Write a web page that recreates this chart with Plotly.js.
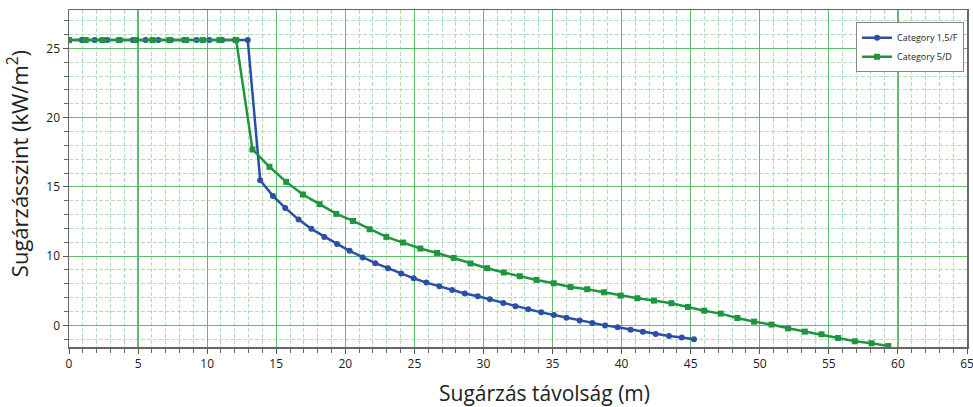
<!DOCTYPE html>
<html>
<head>
<meta charset="utf-8">
<script src="https://cdn.plot.ly/plotly-3.0.1.min.js"></script>
<style>html,body{margin:0;padding:0;background:#fff;}#chart{width:973px;height:407px;}</style>
</head>
<body>
<div id="chart"></div>
<script>
// Category 1,5/F (blue, circles)
const blueX = [0, 0.92, 1.85, 2.77, 3.70, 4.62, 5.54, 6.47, 7.39, 8.32, 9.24, 10.16, 11.09, 12.01, 12.94,
  13.84, 14.76, 15.65, 16.62, 17.54, 18.48, 19.40, 20.31, 21.26, 22.17, 23.09, 24.04, 24.95, 25.87, 26.81,
  27.73, 28.65, 29.59, 30.46, 31.43, 32.32, 33.24, 34.18, 35.10, 36.01, 36.96, 37.88, 38.80, 39.71, 40.65,
  41.54, 42.46, 43.43, 44.35, 45.24];
const blueY = [25.6, 25.6, 25.6, 25.6, 25.6, 25.6, 25.6, 25.6, 25.6, 25.6, 25.6, 25.6, 25.6, 25.6, 25.6,
  15.48, 14.35, 13.48, 12.64, 11.97, 11.39, 10.88, 10.38, 9.90, 9.49, 9.13, 8.74, 8.40, 8.09, 7.83,
  7.56, 7.30, 7.10, 6.88, 6.62, 6.38, 6.16, 5.94, 5.75, 5.56, 5.36, 5.17, 5.00, 4.86, 4.69,
  4.55, 4.38, 4.23, 4.12, 4.00];
// Category 5/D (green, squares)
const greenX = [0, 1.21, 2.42, 3.63, 4.84, 6.05, 7.26, 8.47, 9.68, 10.89, 12.10,
  13.28, 14.51, 15.72, 16.93, 18.14, 19.35, 20.56, 21.76, 22.97, 24.18, 25.43, 26.64, 27.85, 29.06, 30.27,
  31.47, 32.63, 33.84, 35.09, 36.30, 37.51, 38.72, 39.93, 41.14, 42.34, 43.60, 44.80, 45.98, 47.17,
  48.38, 49.59, 50.85, 52.05, 53.26, 54.47, 55.67, 56.88, 58.09, 59.30];
const greenY = [25.6, 25.6, 25.6, 25.6, 25.6, 25.6, 25.6, 25.6, 25.6, 25.6, 25.6,
  17.70, 16.45, 15.36, 14.45, 13.75, 13.05, 12.54, 11.94, 11.39, 10.98, 10.55, 10.23, 9.87, 9.47, 9.13,
  8.82, 8.55, 8.28, 8.04, 7.77, 7.61, 7.39, 7.15, 6.96, 6.79, 6.60, 6.33, 6.06, 5.85,
  5.53, 5.27, 5.06, 4.79, 4.55, 4.36, 4.09, 3.85, 3.71, 3.51];
const seriesNames = ["Category 1,5/F", "Category 5/D"];
const yTickVals = [5, 10, 15, 20, 25];
const yTickText = ["0", "10", "15", "20", "25"];
const xTitle = "Sugárzás távolság (m)";
const yTitle = "Sugárzásszint (kW/m<sup>2</sup>)";

const FONT = "Open Sans, DejaVu Sans, sans-serif";
const MAJOR = "rgb(95,188,108)";
const MINOR = "rgb(178,222,182)";

const traces = [
  {x: blueX, y: blueY, name: seriesNames[0], type: "scatter", mode: "lines+markers",
   line: {color: "#2a4fa6", width: 2.5}, marker: {symbol: "circle", size: 6, color: "#2a4fa6"}},
  {x: greenX, y: greenY, name: seriesNames[1], type: "scatter", mode: "lines+markers",
   line: {color: "#1f9540", width: 2.5}, marker: {symbol: "square", size: 6, color: "#1f9540"}}
];

const axisCommon = {
  showline: true, linecolor: "#666", linewidth: 1.5, mirror: true,
  ticks: "outside", ticklen: 5, tickcolor: "#555", tickwidth: 1,
  showgrid: true, gridcolor: MAJOR, gridwidth: 1.2, zeroline: false,
  tickfont: {family: FONT, size: 12, color: "#222"},
  ticklabeloverflow: "allow",
  minor: {dtick: 1, ticks: "outside", ticklen: 4, tickcolor: "#666", showgrid: true,
          gridcolor: MINOR, griddash: "4px,2px", gridwidth: 1}
};

const layout = {
  width: 973, height: 407,
  margin: {l: 69, r: 6, t: 10, b: 60},
  paper_bgcolor: "#fff", plot_bgcolor: "#fff",
  showlegend: true,
  legend: {x: 0.9967, xanchor: "right", y: 0.964, yanchor: "top",
           bgcolor: "#fff", bordercolor: "#888", borderwidth: 1,
           font: {family: FONT, size: 9, color: "#222"}, itemwidth: 30, tracegroupgap: 0},
  xaxis: Object.assign({}, axisCommon, {range: [0, 65], dtick: 5, tick0: 0}),
  yaxis: Object.assign({}, axisCommon, {range: [3.44, 27.77], tickmode: "array",
           tickvals: yTickVals, ticktext: yTickText,
           minor: Object.assign({}, axisCommon.minor, {tick0: 0})}),
  annotations: [
    {text: xTitle, xref: "paper", yref: "paper", x: 0.53, y: -0.1365, xanchor: "center", yanchor: "middle",
     showarrow: false, font: {family: FONT, size: 21, color: "#222"}},
    {text: yTitle, xref: "paper", yref: "paper", x: -0.057, y: 0.545, xanchor: "center", yanchor: "middle",
     textangle: -90, showarrow: false, font: {family: FONT, size: 22, color: "#222"}}
  ]
};

Plotly.newPlot("chart", traces, layout, {displayModeBar: false, staticPlot: true});
</script>
</body>
</html>
